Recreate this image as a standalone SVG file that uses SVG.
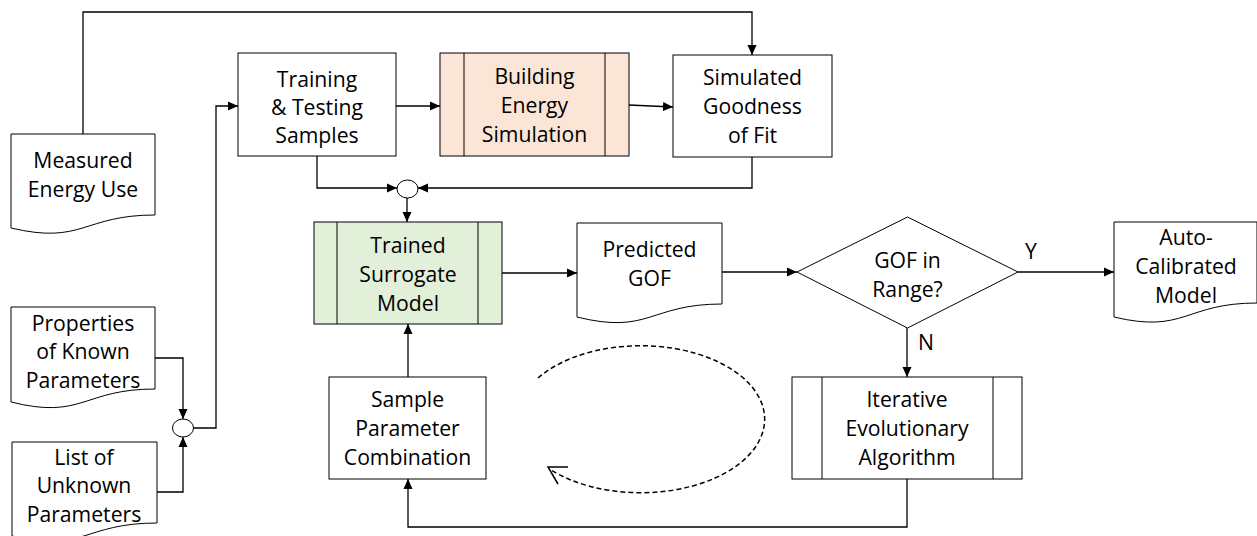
<svg xmlns="http://www.w3.org/2000/svg" width="1257" height="536" viewBox="0 0 1257 536">
<defs>
<marker id="ah" viewBox="0 0 10 10" refX="10" refY="5" markerWidth="10" markerHeight="10" markerUnits="userSpaceOnUse" orient="auto">
<path d="M0,0.5 L10,5 L0,9.5 Z" fill="#000"/>
</marker>
<style>
.box{fill:#fff;stroke:#000;stroke-width:1}
.sim{fill:#fbe5d6;stroke:#000;stroke-width:1}
.sur{fill:#e2efd9;stroke:#000;stroke-width:1}
.ln{fill:none;stroke:#000;stroke-width:1}
.cn{fill:none;stroke:#000;stroke-width:1.3}
.ar{marker-end:url(#ah)}
text{font-family:"Open Sans","Noto Sans","Liberation Sans",sans-serif;font-size:21.2px;fill:#000;text-anchor:middle}
</style>
</defs>
<rect width="1257" height="536" fill="#fff"/>

<g id="connectors">
<path class="cn ar" d="M83,134 V12 H752 V55"/>
<path class="cn ar" d="M396,106 H440"/>
<path class="cn ar" d="M629,105 L673,107"/>
<path class="cn ar" d="M317,156 V188 H397"/>
<path class="cn ar" d="M752,157 V188 H418"/>
<path class="cn ar" d="M407,198 V222"/>
<path class="cn ar" d="M155,358 H183 V419"/>
<path class="cn ar" d="M157,492 H183 V437"/>
<path class="cn ar" d="M193,428 H216 V106 H238"/>
<path class="cn ar" d="M502,273 H577"/>
<path class="cn ar" d="M722,272 H797"/>
<path class="cn ar" d="M1018,272 H1114"/>
<path class="cn ar" d="M907,328 V377"/>
<path class="cn ar" d="M907,479 V527 H408 V479"/>
<path class="cn ar" d="M408,377 V324"/>
<path d="M538,378 A124,73.5 0 1 1 551,470" fill="none" stroke="#000" stroke-width="1.5" stroke-dasharray="5,3"/>
<path d="M568,467 L548,467 L558,484" fill="none" stroke="#000" stroke-width="1.5"/>
<text x="1031" y="259">Y</text>
<text x="926" y="350">N</text>
</g>

<g id="measured">
<path class="box" d="M11,134 H155 V215 C83,215 83,245 11,228 Z"/>
<text x="83" y="168">Measured</text>
<text x="83" y="197">Energy Use</text>
</g>

<g id="properties">
<path class="box" d="M11,307 H155 V389 C83,389 83,420 11,402 Z"/>
<text x="83" y="331">Properties</text>
<text x="83" y="359">of Known</text>
<text x="83" y="388">Parameters</text>
</g>

<g id="unknown">
<path class="box" d="M12,442 H157 V523 C84,523 84,553 12,536 Z"/>
<text x="84" y="465">List of</text>
<text x="84" y="493">Unknown</text>
<text x="84" y="522">Parameters</text>
</g>

<g id="junction1">
<ellipse class="box" cx="183" cy="428" rx="10.5" ry="9"/>
</g>

<g id="training">
<rect class="box" x="238" y="53" width="158" height="103"/>
<text x="317" y="87">Training</text>
<text x="317" y="115">&amp; Testing</text>
<text x="317" y="143">Samples</text>
</g>

<g id="simulation">
<rect class="sim" x="440" y="53" width="189" height="103"/>
<path class="ln" d="M464,53 V156 M605,53 V156"/>
<text x="534.5" y="84">Building</text>
<text x="534.5" y="113">Energy</text>
<text x="534.5" y="142">Simulation</text>
</g>

<g id="simgof">
<rect class="box" x="673" y="55" width="159" height="102"/>
<text x="752.5" y="85">Simulated</text>
<text x="752.5" y="114">Goodness</text>
<text x="752.5" y="143">of Fit</text>
</g>

<g id="junction2">
<ellipse class="box" cx="407.5" cy="189" rx="10.5" ry="9"/>
</g>

<g id="surrogate">
<rect class="sur" x="314" y="222" width="188" height="102"/>
<path class="ln" d="M337,222 V324 M478,222 V324"/>
<text x="408" y="253">Trained</text>
<text x="408" y="282">Surrogate</text>
<text x="408" y="311">Model</text>
</g>

<g id="predicted">
<path class="box" d="M577,223 H722 V304 C649.5,304 649.5,335 577,317 Z"/>
<text x="649.5" y="257">Predicted</text>
<text x="649.5" y="286">GOF</text>
</g>

<g id="decision">
<path class="box" d="M797,272 L907.5,217 L1018,272 L907.5,328 Z"/>
<text x="907.5" y="268">GOF in</text>
<text x="907.5" y="297">Range?</text>
</g>

<g id="calibrated">
<path class="box" d="M1114,222 H1257 V303 C1185,303 1185,334 1114,317 Z"/>
<text x="1186" y="245">Auto-</text>
<text x="1186" y="274">Calibrated</text>
<text x="1186" y="303">Model</text>
</g>

<g id="evolutionary">
<rect class="box" x="792" y="377" width="230" height="102"/>
<path class="ln" d="M822,377 V479 M993,377 V479"/>
<text x="907" y="407">Iterative</text>
<text x="907" y="436">Evolutionary</text>
<text x="907" y="465">Algorithm</text>
</g>

<g id="sample">
<rect class="box" x="329" y="377" width="157" height="102"/>
<text x="407.5" y="407">Sample</text>
<text x="407.5" y="436">Parameter</text>
<text x="407.5" y="465">Combination</text>
</g>
</svg>
